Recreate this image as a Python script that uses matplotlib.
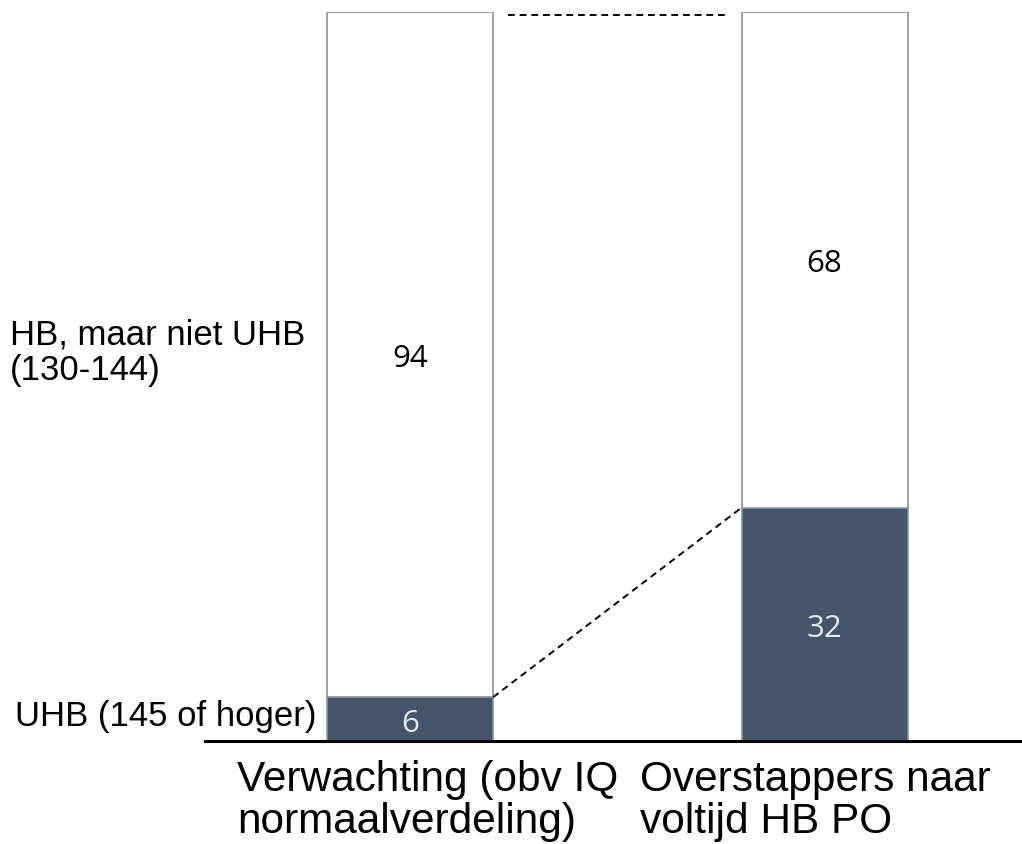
import matplotlib
matplotlib.use("Agg")
import matplotlib.pyplot as plt

categories = ["Verwachting (obv IQ\nnormaalverdeling)", "Overstappers naar\nvoltijd HB PO"]
uhb = [6, 32]
hb = [94, 68]
segment_labels = ["HB, maar niet UHB\n(130-144)", "UHB (145 of hoger)"]

W, H = 1022, 845
fig = plt.figure(figsize=(W / 100, H / 100), dpi=100)
ax_left, ax_right = 205, 1022
ax_top, ax_bot = 13, 742
ax = fig.add_axes([ax_left / W, 1 - ax_bot / H, (ax_right - ax_left) / W, (ax_bot - ax_top) / H])

x = [0, 1]
ppu = 414.5
xmin = -(410 - ax_left) / ppu
ax.set_xlim(xmin, xmin + (ax_right - ax_left) / ppu)
ax.set_ylim(0, 100)
bw = 166 / ppu

dark = "#44546a"
edge = "#8a949e"
ax.bar(x, uhb, width=bw, color=dark, edgecolor=edge, linewidth=1.2, zorder=2)
ax.bar(x, hb, bottom=uhb, width=bw, color="white", edgecolor=edge, linewidth=1.2, zorder=2)

for xi, u, h in zip(x, uhb, hb):
    ax.text(xi, u / 2, f"{u}", ha="center", va="center_baseline", color="#e4e8ee",
            fontsize=22.5, family="Open Sans", zorder=3)
    ax.text(xi, u + h / 2, f"{h}", ha="center", va="center_baseline", color="black",
            fontsize=22.5, family="Open Sans", zorder=3)

# connecting dashed lines
ax.plot([x[0] + bw / 2 + 0.035, x[1] - bw / 2 - 0.04], [uhb[0] + hb[0] - 0.4] * 2,
        ls=(0, (3.5, 2.5)), color="black", lw=1.4, clip_on=False)
ax.plot([x[0] + bw / 2, x[1] - bw / 2], [uhb[0], uhb[1]],
        ls=(0, (3.5, 2.5)), color="black", lw=1.4, clip_on=False)

for s in ["top", "right", "left"]:
    ax.spines[s].set_visible(False)
ax.spines["bottom"].set_linewidth(2.2)
ax.spines["bottom"].set_color("black")
ax.set_xticks([])
ax.set_yticks([])
ax.patch.set_alpha(0)

# left segment labels (va='baseline' aligns the last line's baseline)
fig.text(10 / W, 1 - 380 / H, segment_labels[0], ha="left", va="baseline",
         fontsize=25, family="Liberation Sans", linespacing=1.09)
fig.text(15 / W, 1 - 726 / H, segment_labels[1], ha="left", va="baseline",
         fontsize=25, family="Liberation Sans")

# category labels
for px, lab in zip([237, 640], categories):
    fig.text(px / W, 1 - 833 / H, lab, ha="left", va="baseline", fontsize=30.5,
             family="Liberation Sans", linespacing=1.08, multialignment="left")

fig.savefig("out.png", dpi=100)
